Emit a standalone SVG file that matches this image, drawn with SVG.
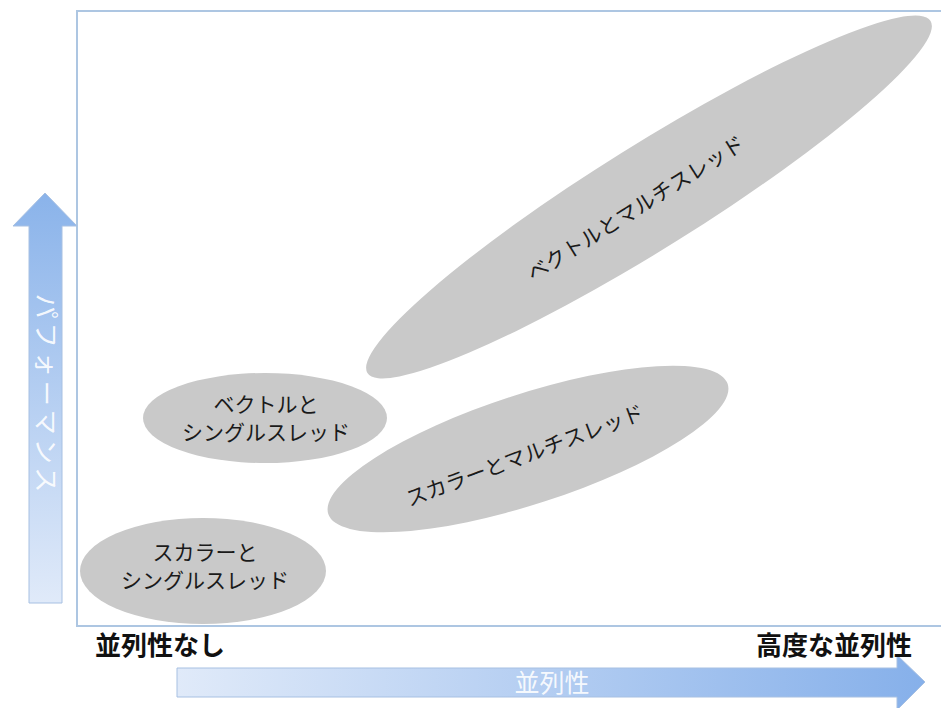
<svg xmlns="http://www.w3.org/2000/svg" width="941" height="708" viewBox="0 0 941 708">
<style>
.node{fill:#c9c9c9}
.nt{font-family:"Noto Sans CJK JP","Noto Sans",sans-serif;font-size:21px;fill:#1a1a1a;text-anchor:middle}
.ax{font-family:"Noto Sans CJK JP","Noto Sans",sans-serif;font-size:26px;font-weight:bold;fill:#111}
.at{font-family:"Noto Sans CJK JP","Noto Sans",sans-serif;font-size:25px;fill:#ffffff;fill-opacity:0.9;text-anchor:middle}
</style>
<defs>
<linearGradient id="gv" x1="0" y1="0" x2="0" y2="1">
<stop offset="0" stop-color="#8ab3ea"/>
<stop offset="1" stop-color="#e0eaf9"/>
</linearGradient>
<linearGradient id="gh" x1="0" y1="0" x2="1" y2="0">
<stop offset="0" stop-color="#e0eaf9"/>
<stop offset="1" stop-color="#86b0ea"/>
</linearGradient>
</defs>
<rect width="941" height="708" fill="#ffffff"/>
<rect x="77" y="11" width="880" height="615" fill="none" stroke="#adc6e2" stroke-width="2"/>
<g id="axes">
<path d="M29,603 L29,226 L13,226 L45,193 L77,226 L62,226 L62,603 Z" fill="url(#gv)" stroke="#a7c0e2" stroke-width="1"/>
<text class="at" transform="translate(45,395) rotate(90)" y="8" letter-spacing="4" font-size="22">パフォーマンス</text>
<path d="M177,668 L897,668 L897,655 L925,682 L897,710 L897,697 L177,697 Z" fill="url(#gh)" stroke="#a7c0e2" stroke-width="1"/>
<text class="at" x="552" y="692">並列性</text>
<text class="ax" x="95" y="655">並列性なし</text>
<text class="ax" x="912" y="655" text-anchor="end">高度な並列性</text>
</g>
<g id="node-scalar-single">
<ellipse class="node" cx="203" cy="571" rx="123" ry="53"/>
<text class="nt" x="205" y="560">スカラーと</text>
<text class="nt" x="205" y="588">シングルスレッド</text>
</g>
<g id="node-vector-single">
<ellipse class="node" cx="265" cy="418" rx="122" ry="45"/>
<text class="nt" x="266" y="412">ベクトルと</text>
<text class="nt" x="266" y="440">シングルスレッド</text>
</g>
<g id="node-scalar-multi">
<ellipse class="node" cx="528" cy="449" rx="210" ry="55" transform="rotate(-18 528 449)"/>
<text class="nt" transform="translate(525,456) rotate(-20.5)" y="7">スカラーとマルチスレッド</text>
</g>
<g id="node-vector-multi">
<ellipse class="node" cx="649" cy="197" rx="332" ry="52" transform="rotate(-32 649 197)"/>
<text class="nt" transform="translate(636,209) rotate(-32.3)" y="7" font-size="22">ベクトルとマルチスレッド</text>
</g>
</svg>
